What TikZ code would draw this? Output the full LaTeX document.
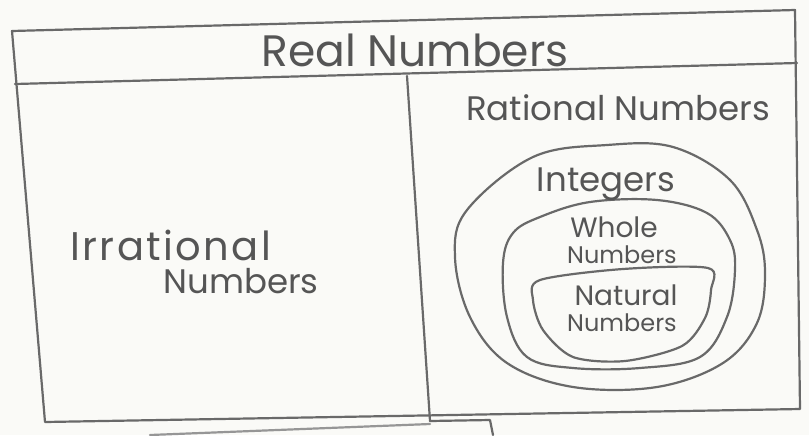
\documentclass[tikz,border=0pt]{standalone}
\usepackage{fontspec}
\setmainfont{Poppins}
\usepackage{tikz}

\definecolor{pencil}{RGB}{105,105,105}
\definecolor{lead}{RGB}{85,85,85}
\definecolor{paper}{RGB}{250,250,247}

\newcommand{\handsize}[1]{\fontsize{#1}{#1}\selectfont}

\tikzset{
  pencilline/.style={draw=pencil, line width=1.1pt, line join=round, line cap=round},
  handtext/.style={text=lead, inner sep=0pt, align=center},
}

\begin{document}
\begin{tikzpicture}[x=0.5pt, y=-0.5pt]

% Paper
\fill[paper] (0,0) rectangle (809,435);
\useasboundingbox (0,0) rectangle (809,435);

% Outer frame
\draw[pencilline] (12,31) -- (795,10) -- (800,409) -- (45,422) -- cycle;
\draw[pencilline] (15,84) -- (797,63);
\draw[pencilline] (407,76) -- (430,421);

% Stray edges at the bottom
\draw[pencilline, draw=pencil!70] (150,435) -- (430,424);
\draw[pencilline] (430,421) -- (490,420) -- (493,435);

% Titles
\node[handtext, font=\handsize{22}] (real) at (415,50) {Real Numbers};
\node[handtext, font=\handsize{17}] (rational) at (618,108) {Rational Numbers};
\node[handtext, font=\handsize{20}\addfontfeature{LetterSpace=6}, anchor=west] (irr1) at (70,245) {Irrational};
\node[handtext, font=\handsize{17}, anchor=west] (irr2) at (163,281) {Numbers};

% Nested sets
\draw[pencilline] plot[smooth cycle, tension=0.6] coordinates {
  (533,157) (607,145) (673,147) (730,180) (757,230) (765,273)
  (757,323) (723,363) (657,387) (573,387) (507,363) (470,317)
  (455,257) (467,210)};
\draw[pencilline] plot[smooth cycle, tension=0.6] coordinates {
  (540,217) (590,202) (657,200) (707,213) (730,240) (735,270)
  (727,317) (700,357) (640,368) (573,368) (527,357) (507,317)
  (503,263) (513,233)};
\draw[pencilline] plot[smooth cycle, tension=0.5] coordinates {
  (540,280) (623,269) (708,268) (711,290) (705,318) (682,346)
  (625,361) (573,357) (543,330) (533,300)};

\node[handtext, font=\handsize{17}] (integers) at (606,184) {Integers};
\node[handtext, font=\handsize{14}] (whole) at (614,227) {Whole};
\node[handtext, font=\handsize{12}] (wholenum) at (622,255) {Numbers};
\node[handtext, font=\handsize{14}] (natural) at (626,295) {Natural};
\node[handtext, font=\handsize{12}] (naturalnum) at (622,323) {Numbers};

\end{tikzpicture}
\end{document}
